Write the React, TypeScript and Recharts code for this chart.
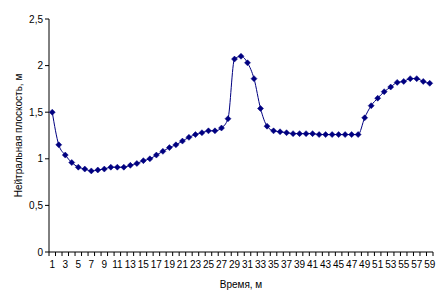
import { LineChart, Line, XAxis, YAxis } from 'recharts';

const minutes = Array.from({ length: 59 }, (_, i) => i + 1);

const neutralPlane = [
  1.5, 1.15, 1.04, 0.96, 0.91, 0.89, 0.87, 0.88, 0.89, 0.91,
  0.91, 0.91, 0.93, 0.95, 0.98, 1.0, 1.04, 1.08, 1.12, 1.15,
  1.19, 1.23, 1.26, 1.28, 1.3, 1.3, 1.33, 1.43, 2.07, 2.1,
  2.03, 1.86, 1.54, 1.35, 1.3, 1.29, 1.28, 1.27, 1.27, 1.27,
  1.27, 1.26, 1.26, 1.26, 1.26, 1.26, 1.26, 1.26, 1.44, 1.57,
  1.65, 1.72, 1.77, 1.82, 1.83, 1.86, 1.86, 1.83, 1.81,
];

const yTicks = [0, 0.5, 1, 1.5, 2, 2.5];

const chartData = minutes.map((m, i) => ({ minute: m, value: neutralPlane[i] }));

const NAVY = '#000080';
const FONT = 'Arial, "Liberation Sans", sans-serif';

// Excel-style diamond marker
const Diamond = ({ cx, cy }: any) => {
  if (cx == null || cy == null) return null;
  const r = 3;
  return (
    <polygon
      points={`${cx},${cy - r} ${cx + r},${cy} ${cx},${cy + r} ${cx - r},${cy}`}
      fill={NAVY}
      stroke={NAVY}
      strokeWidth={0.5}
    />
  );
};

// ticks between categories, label on every other category
const XTick = ({ x, y, payload, index }: any) => {
  const band = 384 / minutes.length;
  const left = x - band / 2;
  return (
    <g>
      <line x1={left} y1={y - 8} x2={left} y2={y - 4} stroke="#000" />
      {index === minutes.length - 1 && (
        <line x1={x + band / 2} y1={y - 8} x2={x + band / 2} y2={y - 4} stroke="#000" />
      )}
      {index % 2 === 0 && (
        <text x={x} y={y + 8} textAnchor="middle" fontSize={10} fontFamily={FONT} fill="#000">
          {payload.value}
        </text>
      )}
    </g>
  );
};

const App = () => {
  return (
    <div style={{ width: 444, height: 302, background: '#fff' }}>
      <style>{`body{margin:0}`}</style>
      <LineChart
        width={444}
        height={302}
        data={chartData}
        margin={{ top: 19, right: 11, bottom: 20, left: 20 }}
      >
        <XAxis
          dataKey="minute"
          scale="band"
          interval={0}
          tickLine={false}
          tick={<XTick />}
          stroke="#000"
          height={30}
          label={{
            value: 'Время, м',
            position: 'insideBottom',
            offset: -6,
            fontSize: 10,
            fontFamily: FONT,
            fill: '#000',
          }}
        />
        <YAxis
          domain={[0, 2.5]}
          ticks={yTicks}
          width={29}
          stroke="#000"
          tickSize={4}
          tickFormatter={(v: number) => String(v).replace('.', ',')}
          tick={{ fontSize: 10, fontFamily: FONT, fill: '#000' }}
          label={{
            value: 'Нейтральная плоскость, м',
            angle: -90,
            position: 'insideLeft',
            offset: -2,
            fontSize: 10,
            fontFamily: FONT,
            fill: '#000',
            style: { textAnchor: 'middle' },
          }}
        />
        <Line
          type="monotone"
          dataKey="value"
          stroke={NAVY}
          strokeWidth={1}
          dot={<Diamond />}
          activeDot={false}
          isAnimationActive={false}
        />
      </LineChart>
    </div>
  );
};

export default App;
